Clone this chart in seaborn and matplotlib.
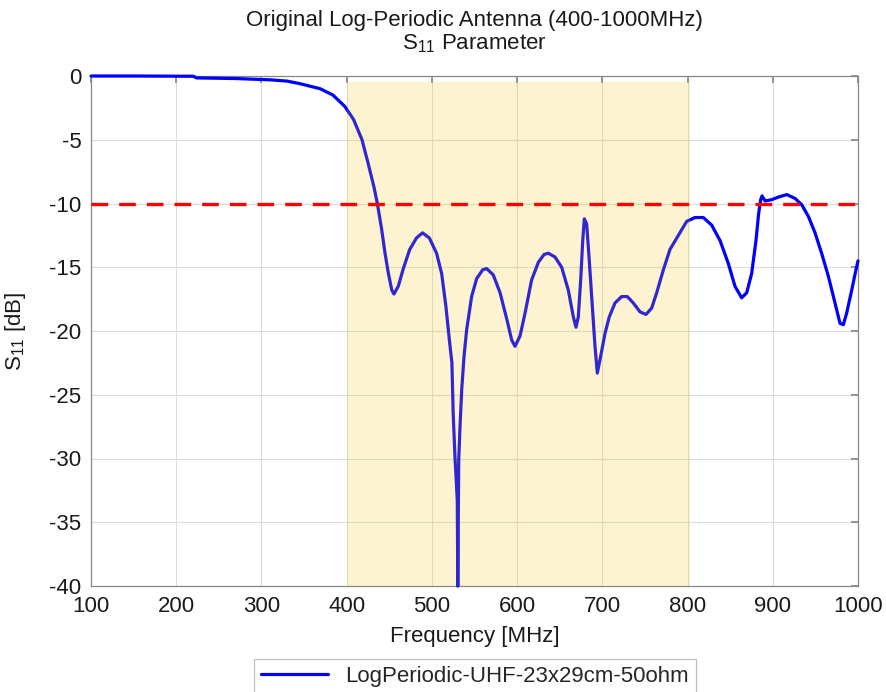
import numpy as np
import pandas as pd
import matplotlib
matplotlib.use('Agg')
import matplotlib.pyplot as plt
import seaborn as sns

sns.set_theme(style='whitegrid')
plt.rcParams['font.family'] = ['Liberation Sans', 'DejaVu Sans']
plt.rcParams['mathtext.fontset'] = 'custom'
plt.rcParams['mathtext.rm'] = 'Liberation Sans'
plt.rcParams['mathtext.it'] = 'Liberation Sans'
plt.rcParams['axes.unicode_minus'] = False

# S11 curve
freq_mhz = [100, 150, 220, 224, 270, 310, 330, 345, 369, 384, 398, 408, 418, 425, 432,
            436, 441, 445, 449, 453, 455.5, 460.5, 466.5, 474, 482, 489, 497, 505.5, 511.5, 516.5,
            520.5, 523.5, 525, 527.1, 529.8, 530.4, 531.5, 533, 535, 537.7, 540.8, 546.6, 552.5, 559.6, 564.2,
            572, 580, 588, 593.6, 597.5, 603.4, 609.3, 617, 625, 631.6, 636.6, 644.5, 652.3, 660.1, 666,
            669.1, 671.8, 674.6, 677, 678.9, 681.6, 684.4, 687.5, 691.4, 694.1, 698, 703.1, 708.1, 714.9, 722.6,
            729.3, 736.3, 744.2, 751.3, 757.9, 763.8, 771.6, 779.4, 789.2, 799, 808.8, 818.5, 828.3, 838.1, 847.8,
            855.7, 863.5, 869.4, 875.2, 880.3, 883.4, 885.8, 887.4, 890.9, 898.7, 906.5, 916.3, 926.1, 934, 941.7,
            949.6, 957.3, 965.2, 973, 978.9, 982.8, 986.7, 992.6, 997.6, 1000]
s11_db = [0.0, 0.0, -0.02, -0.15, -0.2, -0.3, -0.4, -0.6, -1.0, -1.5, -2.4, -3.4, -5.0, -6.8, -8.7,
          -10.0, -12.0, -13.9, -15.5, -16.8, -17.1, -16.5, -15.1, -13.6, -12.7, -12.3, -12.7, -13.9, -15.5, -18.1,
          -20.7, -22.5, -26.5, -29.9, -33.3, -40.0, -30.1, -27.5, -24.6, -22.0, -19.9, -17.3, -15.9, -15.2, -15.1,
          -15.6, -17.0, -19.1, -20.7, -21.2, -20.4, -18.6, -16.0, -14.6, -14.0, -13.9, -14.2, -15.0, -16.8, -18.9,
          -19.7, -18.9, -16.0, -12.9, -11.2, -11.6, -14.2, -17.3, -21.2, -23.3, -22.0, -20.2, -18.9, -17.8, -17.3,
          -17.3, -17.8, -18.5, -18.7, -18.2, -17.0, -15.2, -13.6, -12.5, -11.4, -11.1, -11.1, -11.7, -12.9, -14.7,
          -16.5, -17.4, -17.0, -15.5, -12.9, -10.8, -9.7, -9.4, -9.8, -9.7, -9.5, -9.3, -9.6, -10.1, -11.0,
          -12.3, -13.9, -15.7, -17.8, -19.4, -19.5, -18.6, -16.8, -15.2, -14.5]
band_mhz = [400, 803]
band_top_db = -0.5
threshold_db = -10.0
series_name = 'LogPeriodic-UHF-23x29cm-50ohm'

df = pd.DataFrame({'freq': freq_mhz, 's11': s11_db, 'antenna': series_name})

fig = plt.figure(figsize=(8.86, 6.92), dpi=100)
ax = fig.add_axes([91 / 886, 1 - 586 / 692, 767 / 886, 510 / 692])

sns.lineplot(data=df, x='freq', y='s11', hue='antenna', palette=['#0000ff'],
             linewidth=2.3, ax=ax, zorder=3, legend=False, clip_on=False)
for ln in ax.get_lines():
    ln.set_solid_joinstyle('round')
ax.fill_between(band_mhz, [-40, -40], [band_top_db, band_top_db],
                color=(0.96, 0.78, 0.08), alpha=0.2, linewidth=0, zorder=3.5)
ax.axhline(threshold_db, color='#ff0000', linestyle=(0, (5, 3.3)), linewidth=2.4, zorder=4)

ax.set_xlim(100, 1000)
ax.set_ylim(-40, 0)
ax.set_xticks(np.arange(100, 1001, 100))
ax.set_yticks(np.arange(-40, 1, 5))
ax.grid(True, color='#dcdcdc', linewidth=0.8)
for s in ax.spines.values():
    s.set_color('#888888')
    s.set_linewidth(0.9)
ax.tick_params(direction='in', length=5, color='#888888', top=True, right=True,
               labelsize=16, labelcolor='#1a1a1a', pad=7)
ax.set_xlabel('Frequency [MHz]', fontsize=16, color='#1a1a1a', labelpad=7)
ax.set_ylabel('S$_{11}$ [dB]', fontsize=16, color='#1a1a1a', labelpad=15)
ax.set_title('Original Log-Periodic Antenna (400-1000MHz)\nS$_{11}$ Parameter',
             fontsize=16, color='#1a1a1a', pad=19, linespacing=1.12)

handle = plt.Line2D([], [], color='#0000ff', linewidth=2.3)
leg = fig.legend([handle], [series_name], loc='upper center',
                 bbox_to_anchor=(475 / 886, 1 - 648 / 692), fontsize=16,
                 frameon=True, fancybox=False, edgecolor='#b0b0b0',
                 handlelength=3.0, borderpad=0.3)
leg.get_frame().set_linewidth(0.9)

fig.savefig('out.png', dpi=100)
